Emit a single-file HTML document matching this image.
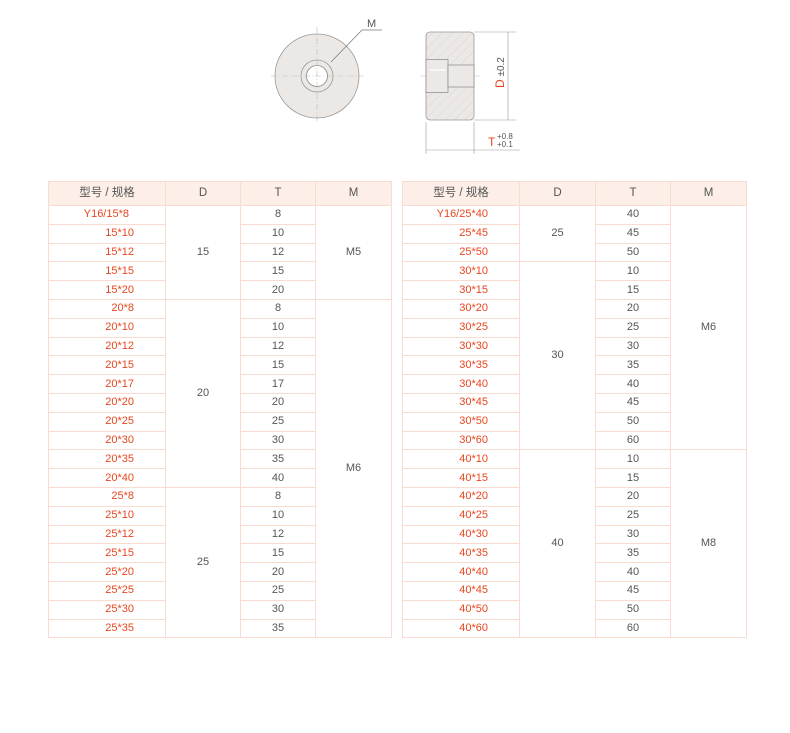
<!DOCTYPE html>
<html><head><meta charset="utf-8"><style>
body{margin:0;width:790px;height:733px;background:#fff;position:relative;font-family:"Liberation Sans","Noto Sans CJK SC",sans-serif;overflow:hidden}
table{position:absolute;top:181px;border-collapse:collapse;table-layout:fixed;font-size:11px;color:#555}
td,th{border:1px solid #f7dccf;text-align:center;padding:0;height:17.8px;line-height:17px;font-weight:normal}
th{background:#fdefe7;height:23px;color:#555;font-size:11.5px}
td.m{color:#e8461e;text-align:right;padding-right:31px}
td.f{padding-right:36px}
</style></head><body>
<svg width="790" height="170" style="position:absolute;left:0;top:0" font-family="Liberation Sans, sans-serif">
<defs><pattern id="h" width="7" height="7" patternUnits="userSpaceOnUse" patternTransform="rotate(45)"><rect width="7" height="7" fill="#ece8e6"/><line x1="0" y1="0" x2="0" y2="7" stroke="#cfc9c6" stroke-width="0.6"/></pattern></defs>
<circle cx="317" cy="76" r="42" fill="#ece8e6" stroke="#999" stroke-width="0.8"/>
<circle cx="317" cy="76" r="16" fill="#ece8e6" stroke="#999" stroke-width="0.8"/>
<circle cx="317" cy="76" r="10.5" fill="#fff" stroke="#888" stroke-width="0.8"/>
<g stroke="#bbb" stroke-width="0.6" stroke-dasharray="6,2,1,2"><line x1="271" y1="76" x2="364" y2="76"/><line x1="317" y1="27" x2="317" y2="122"/><line x1="420" y1="76" x2="480" y2="76"/></g>
<polyline points="331,62 362,30 382,30" fill="none" stroke="#777" stroke-width="0.7"/>
<text x="367" y="27" font-size="11" fill="#555">M</text>
<rect x="426" y="32" width="48" height="88" rx="4" fill="url(#h)" stroke="#999" stroke-width="0.8"/>
<rect x="426" y="59.5" width="22" height="33" fill="#ece8e6" stroke="#888" stroke-width="0.7"/>
<rect x="448" y="65" width="26" height="22" fill="#ece8e6" stroke="#888" stroke-width="0.7"/>
<line x1="430" y1="70" x2="446" y2="70" stroke="#fff" stroke-width="1.2"/>
<g stroke="#999" stroke-width="0.6" fill="none">
<line x1="474" y1="32" x2="516" y2="32"/><line x1="474" y1="120" x2="516" y2="120"/>
<line x1="508" y1="32" x2="508" y2="120"/>
<line x1="426" y1="122" x2="426" y2="154"/><line x1="474" y1="122" x2="474" y2="154"/>
<line x1="426" y1="150" x2="520" y2="150"/>
</g>
<text x="0" y="0" font-size="10" fill="#555" transform="translate(504,88) rotate(-90)"><tspan fill="#e8461e" font-size="12">D</tspan> ±0.2</text>
<text x="488" y="146" font-size="12" fill="#e8461e">T</text>
<text x="497" y="139" font-size="8" fill="#555">+0.8</text>
<text x="497" y="147" font-size="8" fill="#555">+0.1</text>
</svg>

<table style="left:48px;width:343px">
<colgroup><col style="width:117px"><col style="width:75px"><col style="width:75px"><col style="width:76px"></colgroup>
<tr><th>型号 / 规格</th><th>D</th><th>T</th><th>M</th></tr>
<tr><td class="m f">Y16/15*8</td><td rowspan="5">15</td><td>8</td><td rowspan="5">M5</td></tr>
<tr><td class="m">15*10</td><td>10</td></tr>
<tr><td class="m">15*12</td><td>12</td></tr>
<tr><td class="m">15*15</td><td>15</td></tr>
<tr><td class="m">15*20</td><td>20</td></tr>
<tr><td class="m">20*8</td><td rowspan="10">20</td><td>8</td><td rowspan="18">M6</td></tr>
<tr><td class="m">20*10</td><td>10</td></tr>
<tr><td class="m">20*12</td><td>12</td></tr>
<tr><td class="m">20*15</td><td>15</td></tr>
<tr><td class="m">20*17</td><td>17</td></tr>
<tr><td class="m">20*20</td><td>20</td></tr>
<tr><td class="m">20*25</td><td>25</td></tr>
<tr><td class="m">20*30</td><td>30</td></tr>
<tr><td class="m">20*35</td><td>35</td></tr>
<tr><td class="m">20*40</td><td>40</td></tr>
<tr><td class="m">25*8</td><td rowspan="8">25</td><td>8</td></tr>
<tr><td class="m">25*10</td><td>10</td></tr>
<tr><td class="m">25*12</td><td>12</td></tr>
<tr><td class="m">25*15</td><td>15</td></tr>
<tr><td class="m">25*20</td><td>20</td></tr>
<tr><td class="m">25*25</td><td>25</td></tr>
<tr><td class="m">25*30</td><td>30</td></tr>
<tr><td class="m">25*35</td><td>35</td></tr>
</table>

<table style="left:402px;width:344px">
<colgroup><col style="width:117px"><col style="width:76px"><col style="width:75px"><col style="width:76px"></colgroup>
<tr><th>型号 / 规格</th><th>D</th><th>T</th><th>M</th></tr>
<tr><td class="m">Y16/25*40</td><td rowspan="3">25</td><td>40</td><td rowspan="13">M6</td></tr>
<tr><td class="m">25*45</td><td>45</td></tr>
<tr><td class="m">25*50</td><td>50</td></tr>
<tr><td class="m">30*10</td><td rowspan="10">30</td><td>10</td></tr>
<tr><td class="m">30*15</td><td>15</td></tr>
<tr><td class="m">30*20</td><td>20</td></tr>
<tr><td class="m">30*25</td><td>25</td></tr>
<tr><td class="m">30*30</td><td>30</td></tr>
<tr><td class="m">30*35</td><td>35</td></tr>
<tr><td class="m">30*40</td><td>40</td></tr>
<tr><td class="m">30*45</td><td>45</td></tr>
<tr><td class="m">30*50</td><td>50</td></tr>
<tr><td class="m">30*60</td><td>60</td></tr>
<tr><td class="m">40*10</td><td rowspan="10">40</td><td>10</td><td rowspan="10">M8</td></tr>
<tr><td class="m">40*15</td><td>15</td></tr>
<tr><td class="m">40*20</td><td>20</td></tr>
<tr><td class="m">40*25</td><td>25</td></tr>
<tr><td class="m">40*30</td><td>30</td></tr>
<tr><td class="m">40*35</td><td>35</td></tr>
<tr><td class="m">40*40</td><td>40</td></tr>
<tr><td class="m">40*45</td><td>45</td></tr>
<tr><td class="m">40*50</td><td>50</td></tr>
<tr><td class="m">40*60</td><td>60</td></tr>
</table>
</body></html>
